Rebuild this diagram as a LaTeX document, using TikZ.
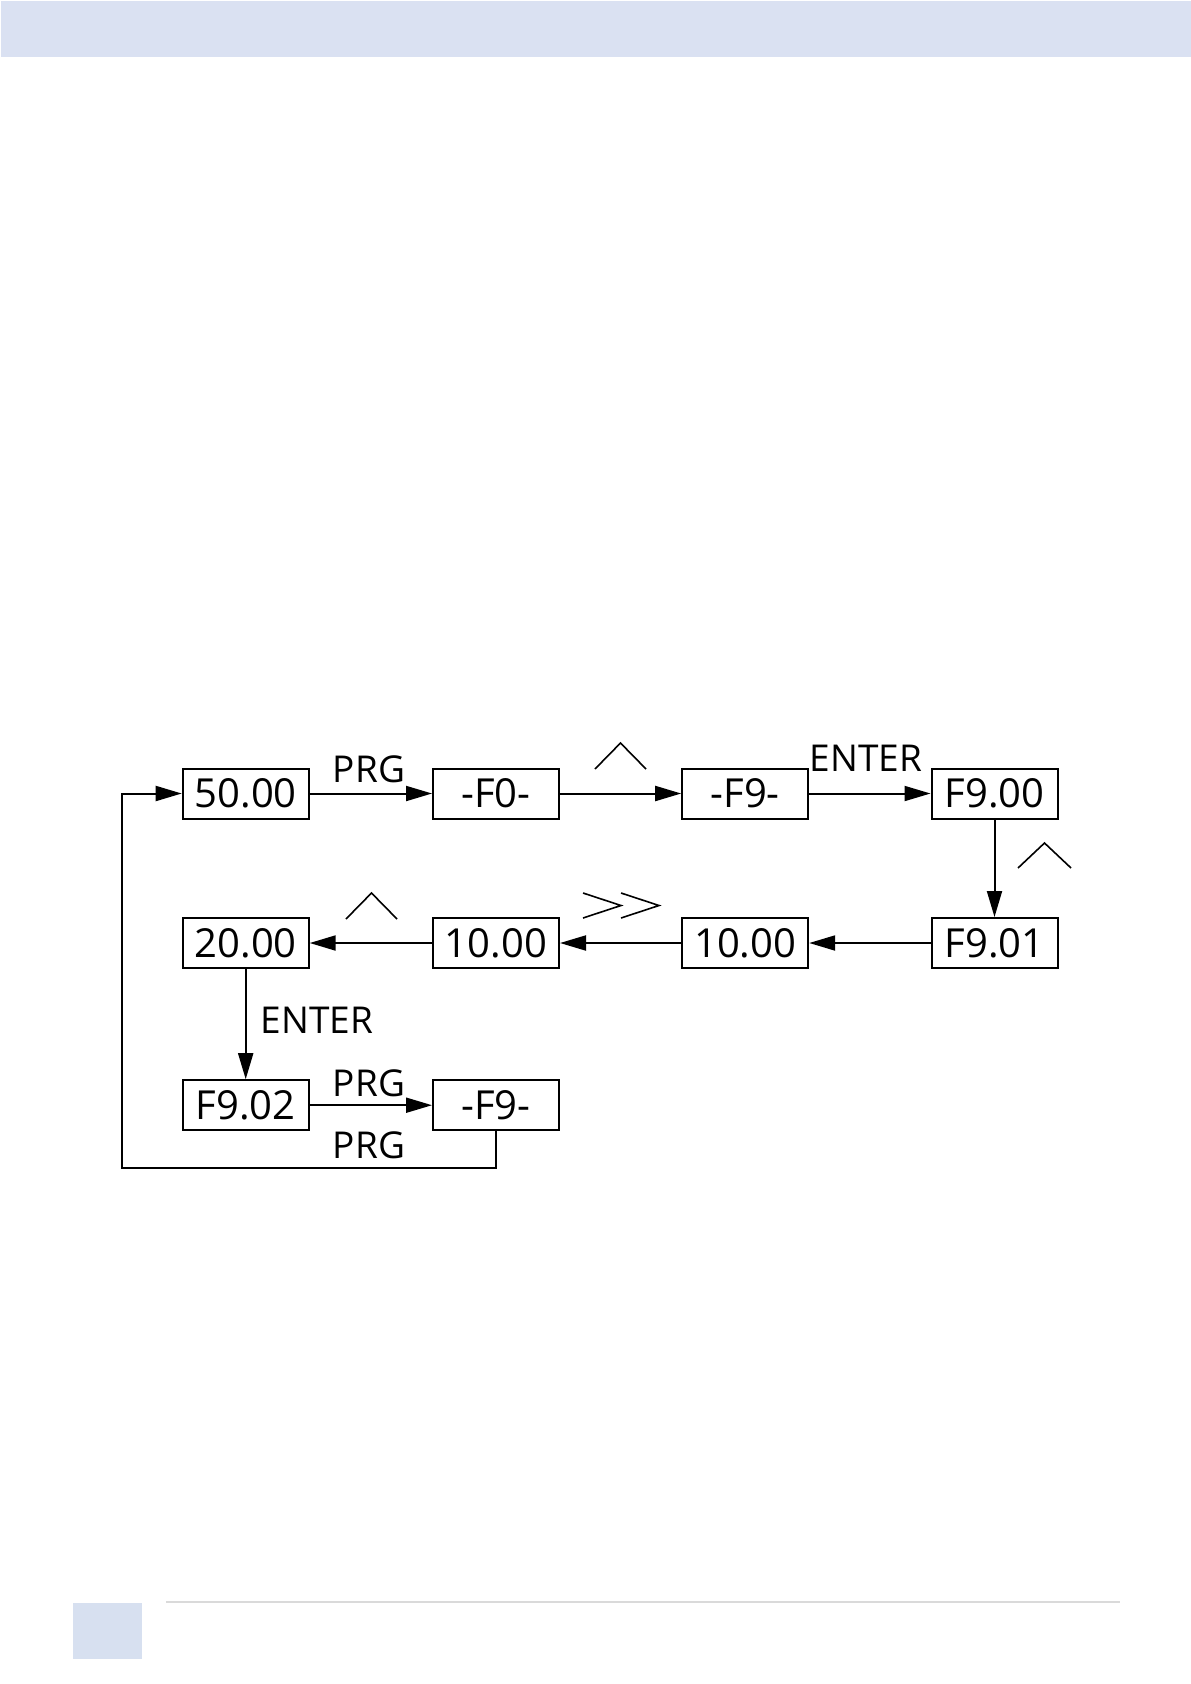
\documentclass[tikz,border=0pt]{standalone}
\usepackage{fontspec}
\setmainfont{Open Sans}
\usetikzlibrary{arrows.meta}
\definecolor{bandblue}{HTML}{DAE1F2}
\definecolor{footblue}{HTML}{D7E0F0}
\definecolor{rulegray}{HTML}{DADADA}
\begin{document}
\begin{tikzpicture}[x=1pt,y=-1pt,
  box/.style={draw,line width=2pt,minimum width=126pt,minimum height=50pt,inner sep=0pt,font=\fontsize{40}{40}\selectfont},
  lbl/.style={anchor=base,inner sep=0pt,font=\fontsize{37}{37}\selectfont},
  conn/.style={line width=2pt,-{Triangle[length=26pt,width=15pt]}},
  chev/.style={line width=1.6pt}]
\useasboundingbox (0,0) rectangle (1191,1684);
% header and footer
\fill[bandblue] (1,1) rectangle (1191,57);
\fill[footblue] (73,1603) rectangle (142,1659);
\draw[rulegray,line width=1.2pt] (166,1602) -- (1120,1602);
% nodes
\node[box] (a) at (245.7,793.5) {50.00};
\node[box] (b) at (496,793.5) {-F0-};
\node[box] (c) at (745.2,793.5) {-F9-};
\node[box] (d) at (994.5,793.5) {F9.00};
\node[box] (e) at (994.5,943) {F9.01};
\node[box] (f) at (745.2,943) {10.00};
\node[box] (g) at (496,943) {10.00};
\node[box] (h) at (245.7,943) {20.00};
\node[box] (i) at (245.7,1105.2) {F9.02};
\node[box] (j) at (496,1105.2) {-F9-};
\coordinate (br) at (496,1167.7);
\coordinate (bl) at (121.7,1167.7);
\coordinate (tl) at (121.7,793.5);
% connectors
\draw[conn] (a) -- (b);
\draw[conn] (b) -- (c);
\draw[conn] (c) -- (d);
\draw[conn] (d) -- (e);
\draw[conn] (e) -- (f);
\draw[conn] (f) -- (g);
\draw[conn] (g) -- (h);
\draw[conn] (h) -- (i);
\draw[conn] (i) -- (j);
\draw[conn] (j.south) -- (br) -- (bl) -- (tl) -- (a.west);
% labels
\node[lbl] (l1) at (369,782) {PRG};
\node[lbl] (l2) at (866,771) {ENTER};
\node[lbl] (l3) at (317,1033) {ENTER};
\node[lbl] (l4) at (369,1096) {PRG};
\node[lbl] (l5) at (369,1158) {PRG};
% key symbols
\draw[chev] (595,769) -- (620.5,743) -- (646,769);
\draw[chev] (1018,868) -- (1044.5,843) -- (1071,868);
\draw[chev] (346,919) -- (371.5,893) -- (397,919);
\draw[chev] (583,893) -- (621,905.5) -- (583,918);
\draw[chev] (621,893) -- (659,905.5) -- (621,918);
\end{tikzpicture}
\end{document}
